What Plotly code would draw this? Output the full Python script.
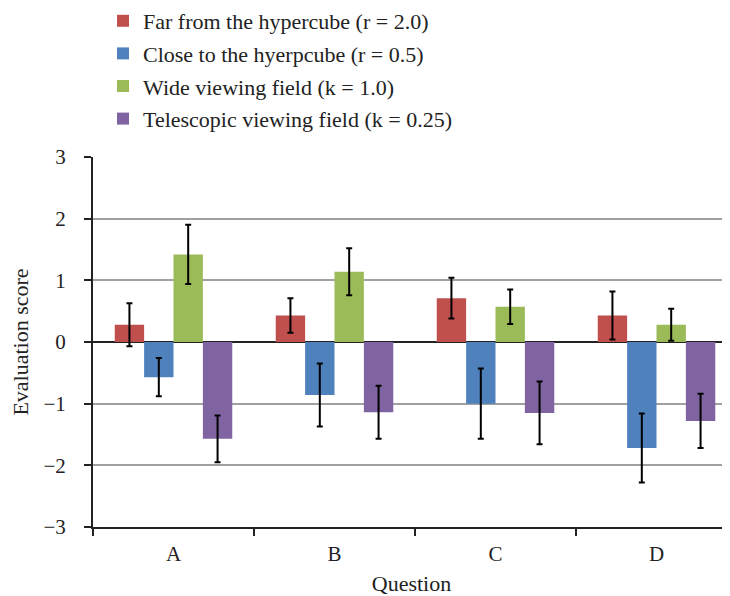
import plotly.graph_objects as go

questions = ["A", "B", "C", "D"]
series_names = [
    "Far from the hypercube (r = 2.0)",
    "Close to the hyerpcube (r = 0.5)",
    "Wide viewing field (k = 1.0)",
    "Telescopic viewing field (k = 0.25)",
]
far_vals = [0.28, 0.43, 0.71, 0.43]
far_err = [0.35, 0.28, 0.33, 0.39]
close_vals = [-0.57, -0.86, -1.00, -1.72]
close_err = [0.31, 0.51, 0.57, 0.56]
wide_vals = [1.42, 1.14, 0.57, 0.28]
wide_err = [0.48, 0.38, 0.28, 0.26]
tele_vals = [-1.57, -1.14, -1.15, -1.28]
tele_err = [0.38, 0.43, 0.51, 0.44]
colors = ["#C0504D", "#4F81BD", "#9BBB59", "#8064A2"]

FONT = "Liberation Serif"
# page body has an 8px margin, so the figure is offset by (8, 8)
W, H = 722, 588
L, T = 85, 149
PW, PH = W - L, 370
B = H - T - PH

fig = go.Figure()
for name, vals, errs, col in zip(series_names,
                                 [far_vals, close_vals, wide_vals, tele_vals],
                                 [far_err, close_err, wide_err, tele_err],
                                 colors):
    fig.add_trace(go.Bar(
        x=questions, y=vals, name=name, legendgroup=name,
        marker=dict(color=col, line=dict(width=0)),
        error_y=dict(type="data", array=errs, visible=True,
                     color="black", thickness=2, width=3),
    ))

fig.update_layout(
    width=W, height=H,
    margin=dict(l=L, r=0, t=T, b=B, autoexpand=False),
    plot_bgcolor="white", paper_bgcolor="white",
    barmode="group", bargap=0.27, bargroupgap=0,
    font=dict(family=FONT, size=21, color="#222222"),
    showlegend=True,
    legend=dict(x=(95 - L) / PW, xanchor="left",
                y=1 + (T + 8) / PH, yanchor="top",
                font=dict(family=FONT, size=22, color="#222222"),
                tracegroupgap=1, itemwidth=30, bgcolor="rgba(0,0,0,0)"),
    xaxis=dict(
        type="category", range=[-0.5, 3.5 - 7 / 161],
        showline=True, linecolor="#222222", linewidth=2,
        ticks="outside", tickson="boundaries", ticklen=7, tickwidth=2,
        tickcolor="#222222", showgrid=False, ticklabelstandoff=7,
        title=dict(text="Question", standoff=12,
                   font=dict(family=FONT, size=22)),
        tickfont=dict(family=FONT, size=21),
    ),
    yaxis=dict(
        range=[-3, 3], dtick=1, tick0=0,
        showline=True, linecolor="#222222", linewidth=2,
        ticks="outside", ticklen=7, tickwidth=2, tickcolor="#222222",
        showgrid=True, gridcolor="#A0A0A0", gridwidth=1.5,
        zeroline=True, zerolinecolor="#222222", zerolinewidth=2,
        ticklabelstandoff=14,
        title=dict(text="Evaluation score", standoff=10,
                   font=dict(family=FONT, size=22)),
        tickfont=dict(family=FONT, size=21),
    ),
)

fig.write_html("out.html")
